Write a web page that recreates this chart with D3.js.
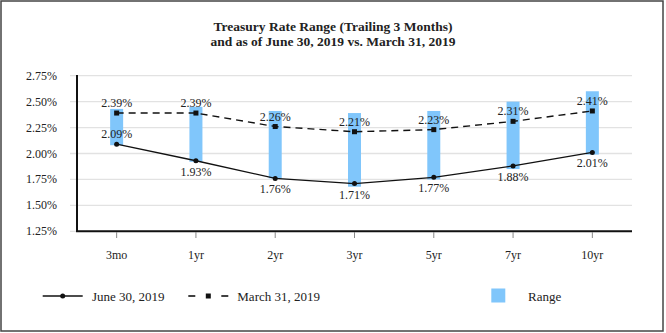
<!DOCTYPE html>
<html>
<head>
<meta charset="utf-8">
<script src="https://cdn.jsdelivr.net/npm/d3@7"></script>
<style>
  body { margin: 0; background: #fff; }
  svg text { font-family: "Liberation Serif", "Times New Roman", serif; fill: #222; }
</style>
</head>
<body>
<div class="container"></div>
<script>
// maturities along the curve
const tenors = ["3mo", "1yr", "2yr", "3yr", "5yr", "7yr", "10yr"];
// trailing 3 month low / high
const rangeLow  = [2.08, 1.92, 1.76, 1.68, 1.75, 1.85, 1.99];
const rangeHigh = [2.43, 2.45, 2.41, 2.39, 2.41, 2.50, 2.60];
// point in time curves
const june30  = [2.09, 1.93, 1.76, 1.71, 1.77, 1.88, 2.01];
const march31 = [2.39, 2.39, 2.26, 2.21, 2.23, 2.31, 2.41];
const yTicks = [1.25, 1.50, 1.75, 2.00, 2.25, 2.50, 2.75];

const W = 666, H = 333;
const svg = d3.select(".container").append("svg")
  .attr("width", W).attr("height", H);

// outer frame
svg.append("rect")
  .attr("x", 1).attr("y", 1).attr("width", 662).attr("height", 330)
  .attr("fill", "none").attr("stroke", "#444").attr("stroke-width", 1.5);

// title
const title = svg.append("text")
  .attr("text-anchor", "middle")
  .attr("font-weight", "bold")
  .attr("font-size", 13.5);
title.append("tspan").attr("x", 333).attr("y", 31).text("Treasury Rate Range (Trailing 3 Months)");
title.append("tspan").attr("x", 333).attr("y", 46).text("and as of June 30, 2019 vs. March 31, 2019");

const x = d3.scaleBand().domain(tenors).range([77, 632]);
const y = d3.scaleLinear().domain([1.25, 2.75]).range([231.3, 75.7]);
const cx = d => x(d) + x.bandwidth() / 2;

// gridlines
svg.append("g")
  .selectAll("line")
  .data(yTicks)
  .join("line")
  .attr("x1", 70).attr("x2", 632)
  .attr("y1", d => y(d)).attr("y2", d => y(d))
  .attr("stroke", "#e2e2e2").attr("stroke-width", 1.3);

svg.append("g")
  .selectAll("text")
  .data(yTicks)
  .join("text")
  .attr("x", 57).attr("y", d => y(d) + 4)
  .attr("text-anchor", "end")
  .attr("font-size", 12)
  .text(d => d3.format(".2f")(d) + "%");

// range bars
const barW = 13;
svg.append("g")
  .selectAll("rect")
  .data(tenors)
  .join("rect")
  .attr("x", d => cx(d) - barW / 2)
  .attr("width", barW)
  .attr("y", (d, i) => y(rangeHigh[i]))
  .attr("height", (d, i) => y(rangeLow[i]) - y(rangeHigh[i]))
  .attr("fill", "#80c6fb");

// axes
svg.append("line")
  .attr("x1", 77).attr("x2", 77).attr("y1", 75).attr("y2", 232)
  .attr("stroke", "#111").attr("stroke-width", 2);
svg.append("line")
  .attr("x1", 76).attr("x2", 632).attr("y1", 231.3).attr("y2", 231.3)
  .attr("stroke", "#111").attr("stroke-width", 2);

svg.append("g")
  .selectAll("line")
  .data(tenors)
  .join("line")
  .attr("x1", cx).attr("x2", cx)
  .attr("y1", 232).attr("y2", 238)
  .attr("stroke", "#888").attr("stroke-width", 1);

svg.append("g")
  .selectAll("text")
  .data(tenors)
  .join("text")
  .attr("x", cx).attr("y", 259)
  .attr("text-anchor", "middle")
  .attr("font-size", 12)
  .text(d => d);

// series lines
const line = d3.line().x((d, i) => cx(tenors[i])).y(d => y(d));

svg.append("path")
  .datum(march31)
  .attr("d", line)
  .attr("fill", "none").attr("stroke", "#111")
  .attr("stroke-width", 1.4).attr("stroke-dasharray", "7,5");

svg.append("path")
  .datum(june30)
  .attr("d", line)
  .attr("fill", "none").attr("stroke", "#111")
  .attr("stroke-width", 1.3);

svg.append("g")
  .selectAll("rect")
  .data(march31)
  .join("rect")
  .attr("x", (d, i) => cx(tenors[i]) - 2.5)
  .attr("y", d => y(d) - 2.5)
  .attr("width", 5).attr("height", 5)
  .attr("fill", "#111");

svg.append("g")
  .selectAll("circle")
  .data(june30)
  .join("circle")
  .attr("cx", (d, i) => cx(tenors[i]))
  .attr("cy", d => y(d))
  .attr("r", 2.5)
  .attr("fill", "#111");

// value labels
const pct = d => d3.format(".2f")(d) + "%";

svg.append("g")
  .selectAll("text")
  .data(march31)
  .join("text")
  .attr("x", (d, i) => cx(tenors[i]))
  .attr("y", d => y(d) - 6)
  .attr("text-anchor", "middle")
  .attr("font-size", 12)
  .text(pct);

svg.append("g")
  .selectAll("text")
  .data(june30)
  .join("text")
  .attr("x", (d, i) => cx(tenors[i]))
  .attr("y", (d, i) => i === 0 ? y(d) - 6 : y(d) + 15)
  .attr("text-anchor", "middle")
  .attr("font-size", 12)
  .text(pct);

// legend
const ly = 296;
const legend = svg.append("g");
legend.append("line")
  .attr("x1", 42.7).attr("x2", 82.7).attr("y1", ly).attr("y2", ly)
  .attr("stroke", "#111").attr("stroke-width", 1.3);
legend.append("circle")
  .attr("cx", 62.7).attr("cy", ly).attr("r", 2.5).attr("fill", "#111");
legend.append("text")
  .attr("x", 92).attr("y", ly + 4.5).attr("font-size", 13)
  .text("June 30, 2019");

// dash - marker - dash
legend.append("g")
  .selectAll("line")
  .data([[188.3, 195.3], [221.3, 228.3]])
  .join("line")
  .attr("x1", d => d[0]).attr("x2", d => d[1])
  .attr("y1", ly).attr("y2", ly)
  .attr("stroke", "#111").attr("stroke-width", 1.6);
legend.append("rect")
  .attr("x", 205.8).attr("y", ly - 2.5).attr("width", 5).attr("height", 5)
  .attr("fill", "#111");
legend.append("text")
  .attr("x", 237.3).attr("y", ly + 4.5).attr("font-size", 13)
  .text("March 31, 2019");

legend.append("rect")
  .attr("x", 491.3).attr("y", 288.5).attr("width", 14).attr("height", 14)
  .attr("fill", "#80c6fb");
legend.append("text")
  .attr("x", 528).attr("y", ly + 4.5).attr("font-size", 13)
  .text("Range");
</script>
</body>
</html>
